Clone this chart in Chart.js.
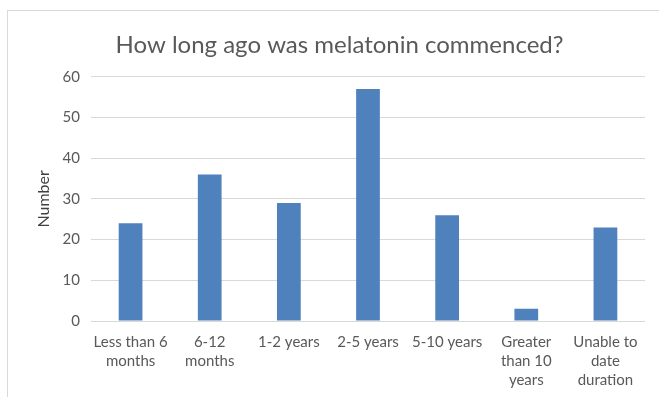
<!DOCTYPE html>
<html>
<head>
<meta charset="utf-8">
<script src="https://cdn.jsdelivr.net/npm/chart.js@4"></script>
<style>
  html, body { margin: 0; padding: 0; background: #fff; overflow: hidden; }
  #wrap { position: relative; width: 659px; height: 397px; }
  #frame { position: absolute; left: 7px; top: 10px; width: 700px; height: 420px; border: 1px solid #d9d9d9; box-sizing: border-box; }
  canvas { position: absolute; left: 0; top: 0; }
</style>
</head>
<body>
<div id="wrap">
  <div id="frame"></div>
  <canvas id="chart" width="659" height="397"></canvas>
</div>
<script>
// durations since melatonin was started
var categories = [
  ["Less than 6", "months"],
  ["6-12", "months"],
  "1-2 years",
  "2-5 years",
  "5-10 years",
  ["Greater", "than 10", "years"],
  ["Unable to", "date", "duration"]
];
var counts = [24, 36, 29, 57, 26, 3, 23];
var yTicks = [0, 10, 20, 30, 40, 50, 60];

var grey = "#595959";
var font = "Lato, 'Liberation Sans', sans-serif";

var myChart = new Chart(document.getElementById("chart").getContext("2d"), {
  type: 'bar',
  data: {
    labels: categories,
    datasets: [{
      label: "Number",
      data: counts,
      backgroundColor: "#4F81BD",
      barPercentage: 0.3,
      categoryPercentage: 1
    }]
  },
  options: {
    responsive: false,
    animation: false,
    layout: { padding: { left: 34, right: 14, top: 0, bottom: 0 } },
    plugins: {
      legend: { display: false },
      tooltip: { enabled: false },
      title: {
        display: true,
        text: "How long ago was melatonin commenced?",
        color: grey,
        font: { family: font, size: 24, weight: 'normal' },
        padding: { top: 31, bottom: 17 }
      }
    },
    scales: {
      x: {
        grid: { display: false, drawTicks: false },
        border: { display: false },
        ticks: {
          color: grey,
          font: { family: font, size: 15, lineHeight: 1.27 },
          padding: 12,
          maxRotation: 0,
          autoSkip: false
        },
        afterFit: function(scale) { scale.height = 76; }
      },
      y: {
        min: 0,
        max: 60,
        afterBuildTicks: function(scale) {
          scale.ticks = yTicks.map(function(v) { return { value: v }; });
        },
        grid: { color: "#d9d9d9", drawTicks: false },
        border: { display: false },
        ticks: {
          color: grey,
          font: { family: font, size: 15 },
          padding: 11
        },
        title: {
          display: true,
          text: "Number",
          color: "#404040",
          font: { family: font, size: 16 },
          padding: 0
        },
        afterFit: function(scale) { scale.width = 57; }
      }
    }
  }
});
</script>
</body>
</html>
